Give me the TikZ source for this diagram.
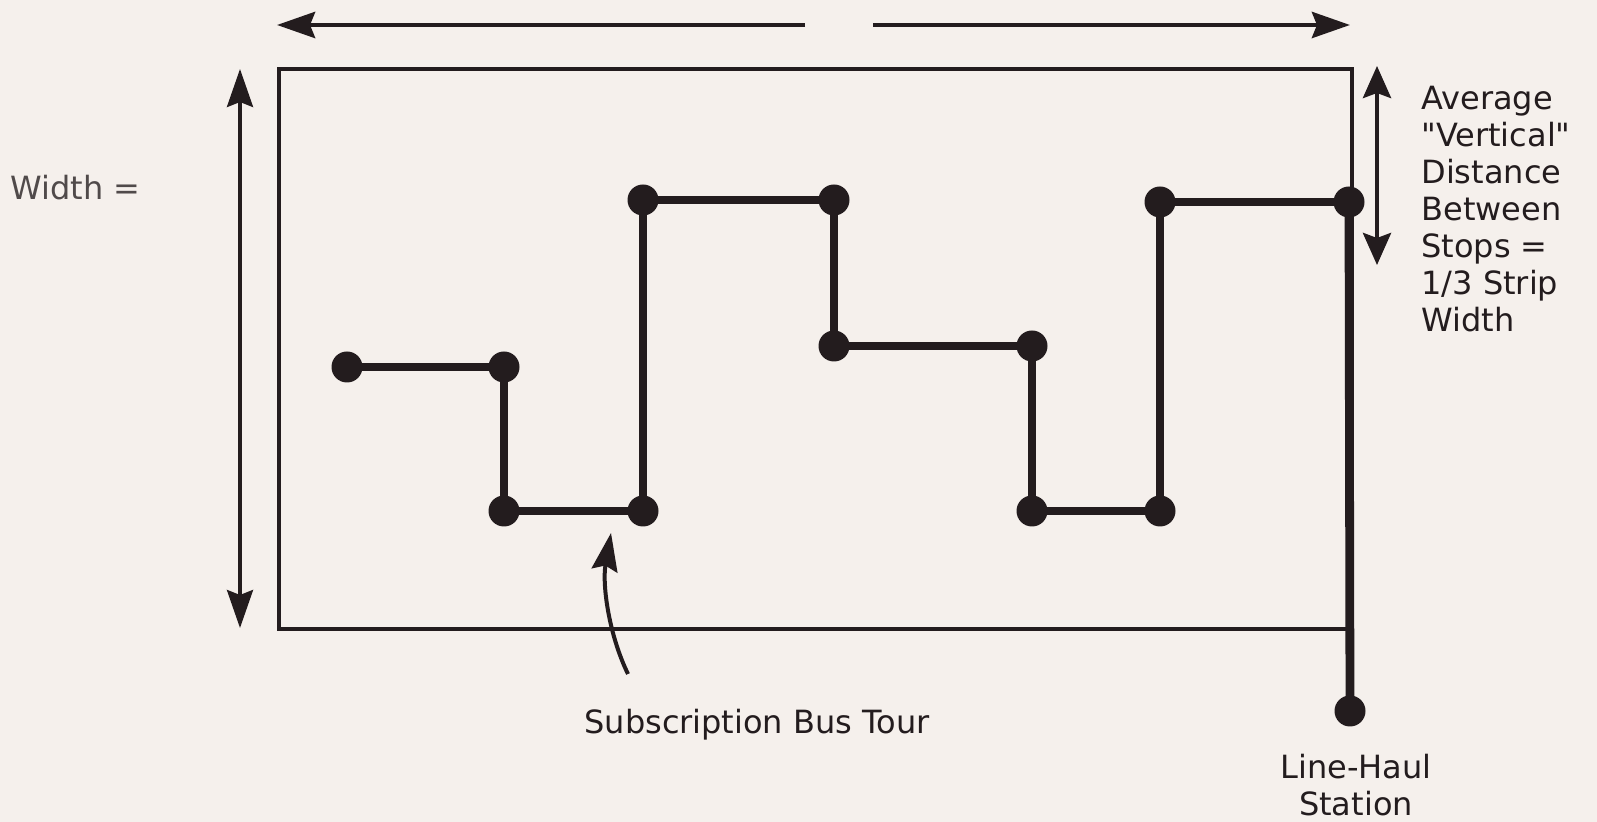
\documentclass[tikz,border=0pt]{standalone}
\usepackage{fontspec}
\setmainfont{DejaVu Sans}[Ligatures=TeXOff]
\usetikzlibrary{arrows.meta}
\definecolor{bg}{RGB}{245,240,236}
\definecolor{ink}{RGB}{35,28,30}
\definecolor{grayink}{RGB}{80,74,74}
\tikzset{
  bigtip/.tip={Stealth[length=19pt,width=13pt,inset=2.5pt]},
  smalltip/.tip={Stealth[length=16pt,width=14pt,inset=2.5pt]}}
\begin{document}
\begin{tikzpicture}[x=0.5pt,y=-0.5pt,
  route/.style={draw=ink, line width=3.8pt, line join=round},
  stopdot/.style={circle, fill=ink, inner sep=0pt, minimum size=15.5pt},
  dim/.style={draw=ink, line width=2.4pt},
  lbl/.style={font=\fontsize{16pt}{18.5pt}\selectfont, text=ink, inner sep=0pt}]
\fill[bg] (0,0) rectangle (1597,822);
\useasboundingbox (0,0) rectangle (1597,822);
% strip
\draw[draw=ink, line width=2pt] (279,69) rectangle (1352,629);
% dimension arrows
\coordinate (ta) at (805,25);
\coordinate (tl) at (277,25);
\coordinate (tb) at (873,25);
\coordinate (tr) at (1350,25);
\draw[dim, -{bigtip}] (ta) -- (tl);
\draw[dim, -{bigtip}] (tb) -- (tr);
\coordinate (wt) at (240,69);
\coordinate (wb) at (240,628);
\draw[draw=ink, line width=1.8pt, {bigtip}-{bigtip}] (wt) -- (wb);
\coordinate (vt) at (1377,66);
\coordinate (vb) at (1377,265);
\draw[draw=ink, line width=2.2pt, {smalltip}-{smalltip}] (vt) -- (vb);
% route
\coordinate (p1) at (347,367);
\coordinate (p2) at (504,367);
\coordinate (p3) at (504,511);
\coordinate (p4) at (643,511);
\coordinate (p5) at (643,200);
\coordinate (p6) at (834,200);
\coordinate (p7) at (834,346);
\coordinate (p8) at (1032,346);
\coordinate (p9) at (1032,511);
\coordinate (p10) at (1160,511);
\coordinate (p11) at (1160,202);
\coordinate (p12) at (1349,202);
\coordinate (st) at (1350,711);
\draw[route] (p1) -- (p2) -- (p3) -- (p4) -- (p5) -- (p6) -- (p7) -- (p8) -- (p9) -- (p10) -- (p11) -- (p12);
\draw[draw=ink, line width=4.4pt] (p12) -- (st);
\foreach \p in {p1,p2,p3,p4,p5,p6,p7,p8,p9,p10,p11,p12,st}
  \node[stopdot] (d\p) at (\p) {};
% labels
\node[lbl, text=grayink, anchor=base west] (width) at (10,200) {Width =};
\node[lbl, anchor=base west, align=left] (avg) at (1421,332) {Average\\"Vertical"\\Distance\\Between\\Stops =\\1/3 Strip\\Width};
\node[lbl, anchor=base west] (tour) at (584,734) {Subscription Bus Tour};
\node[lbl, anchor=base, align=center] (lhs) at (1356,816) {Line-Haul\\Station};
% pointer arrow
\coordinate (tail) at (628,674);
\coordinate (tip) at (611,533);
\draw[draw=ink, line width=2pt, -{bigtip}] (tail) .. controls (609,635) and (602,585) .. (tip);
\end{tikzpicture}
\end{document}
